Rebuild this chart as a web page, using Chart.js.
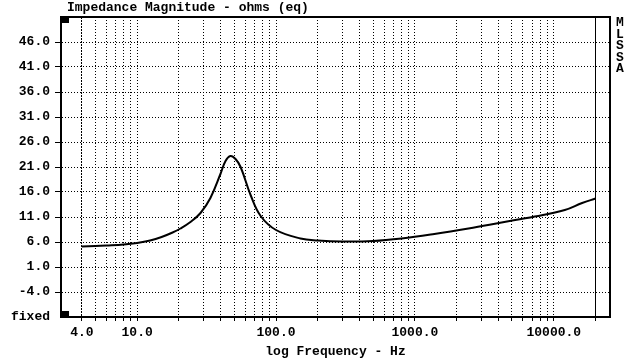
<!DOCTYPE html>
<html>
<head>
<meta charset="utf-8">
<script src="https://cdn.jsdelivr.net/npm/chart.js@4.4.0/dist/chart.umd.min.js"></script>
<style>
html, body { margin: 0; padding: 0; background: #fff; }
#wrap { width: 637px; height: 363px; }
</style>
</head>
<body>
<div id="wrap"><canvas id="impChart" width="637" height="363"></canvas></div>
<script>
// impedance curve (Hz, ohms)
const freqs = [4, 5, 6, 8, 10, 12.4, 15, 18, 20.5, 24.2, 28.6, 33.7, 39.8, 43.3, 47, 51.1, 55.6, 65.6, 77.5, 100, 150, 200, 300, 500, 800, 1380, 2430, 4210, 7290, 12000, 16000, 20000];
const ohms = [5.1, 5.2, 5.3, 5.5, 5.8, 6.3, 7.0, 7.9, 8.7, 10.0, 11.8, 14.8, 19.6, 22.2, 23.2, 22.6, 21.0, 15.4, 11.2, 8.4, 6.7, 6.3, 6.1, 6.2, 6.7, 7.6, 8.7, 9.9, 11.1, 12.4, 13.8, 14.7];

// grid / tick positions
const gridFreqs = [4, 5, 6, 7, 8, 9, 10, 20, 30, 40, 50, 60, 70, 80, 90, 100, 200, 300, 400, 500, 600, 700, 800, 900,
                   1000, 2000, 3000, 4000, 5000, 6000, 7000, 8000, 9000, 10000, 20000];
const freqLabels = [4, 10, 100, 1000, 10000];
const ohmTicks = [-9, -4, 1, 6, 11, 16, 21, 26, 31, 36, 41, 46];

const FONT = '"Liberation Mono", "DejaVu Sans Mono", monospace';
Chart.defaults.font.family = FONT;
Chart.defaults.font.size = 13;
Chart.defaults.font.weight = 'bold';
Chart.defaults.color = '#000';

// titles, frame and the little black squares
const decorPlugin = {
    id: 'decorPlugin',
    afterDraw(chart) {
        const {ctx, chartArea: a} = chart;
        ctx.save();
        ctx.strokeStyle = '#000';
        ctx.lineWidth = 2;
        ctx.beginPath();
        ctx.moveTo(a.left, a.top);
        ctx.lineTo(a.right, a.top);
        ctx.lineTo(a.right, a.bottom);
        ctx.stroke();

        ctx.fillStyle = '#000';
        ctx.fillRect(a.left + 1, a.top, 7, 6);
        ctx.fillRect(a.left + 1, a.bottom - 6, 7, 6);

        ctx.font = 'bold 13px ' + FONT;
        ctx.textBaseline = 'middle';
        ctx.textAlign = 'left';
        ctx.fillText('Impedance Magnitude - ohms (eq)', 67, 8);

        ctx.textAlign = 'center';
        ctx.fillText('log Frequency - Hz', (a.left + a.right) / 2, 352);

        ['M', 'L', 'S', 'S', 'A'].forEach((ch, i) => {
            ctx.fillText(ch, 620, 23 + i * 11.5);
        });
        ctx.restore();
    }
};

new Chart(document.getElementById('impChart').getContext('2d'), {
    type: 'line',
    data: {
        datasets: [{
            label: 'Impedance',
            data: freqs.map((f, i) => ({x: f, y: ohms[i]})),
            borderColor: '#000',
            borderWidth: 2,
            pointRadius: 0,
            tension: 0.4,
            fill: false
        }]
    },
    options: {
        responsive: false,
        animation: false,
        devicePixelRatio: 1,
        layout: { padding: { top: 17, right: 27, left: 0, bottom: 0 } },
        plugins: {
            legend: { display: false },
            tooltip: { enabled: false },
            title: { display: false }
        },
        scales: {
            x: {
                type: 'logarithmic',
                min: 2.83,
                max: 25400,
                afterBuildTicks: s => { s.ticks = gridFreqs.map(v => ({value: v})); },
                afterFit: s => { s.height = 46; },
                ticks: {
                    autoSkip: false,
                    maxRotation: 0,
                    padding: 4,
                    color: '#000',
                    callback: v => freqLabels.includes(v) ? v.toFixed(1) : ''
                },
                grid: {
                    color: '#000',
                    lineWidth: 1,
                    tickLength: 4,
                    tickColor: '#000',
                    tickBorderDash: []
                },
                border: {
                    display: true,
                    color: '#000',
                    width: 2,
                    dash: c => {
                        const v = c.tick ? c.tick.value : null;
                        if (v === 20000) return [];
                        if (v === 4) return [2, 1];
                        return [1, 2];
                    }
                }
            },
            y: {
                type: 'linear',
                min: -9,
                max: 51,
                afterBuildTicks: s => { s.ticks = ohmTicks.map(v => ({value: v})); },
                afterFit: s => { s.width = 61; },
                ticks: {
                    autoSkip: false,
                    padding: 5,
                    color: '#000',
                    callback: v => v === -9 ? 'fixed' : v.toFixed(1)
                },
                grid: {
                    color: c => (c.tick && c.tick.value === -9) ? 'rgba(0,0,0,0)' : '#000',
                    tickColor: c => (c.tick && c.tick.value === -9) ? 'rgba(0,0,0,0)' : '#000',
                    lineWidth: 1,
                    tickLength: 6,
                    tickBorderDash: []
                },
                border: {
                    display: true,
                    color: '#000',
                    width: 2,
                    dash: [1, 2]
                }
            }
        }
    },
    plugins: [decorPlugin]
});
</script>
</body>
</html>
